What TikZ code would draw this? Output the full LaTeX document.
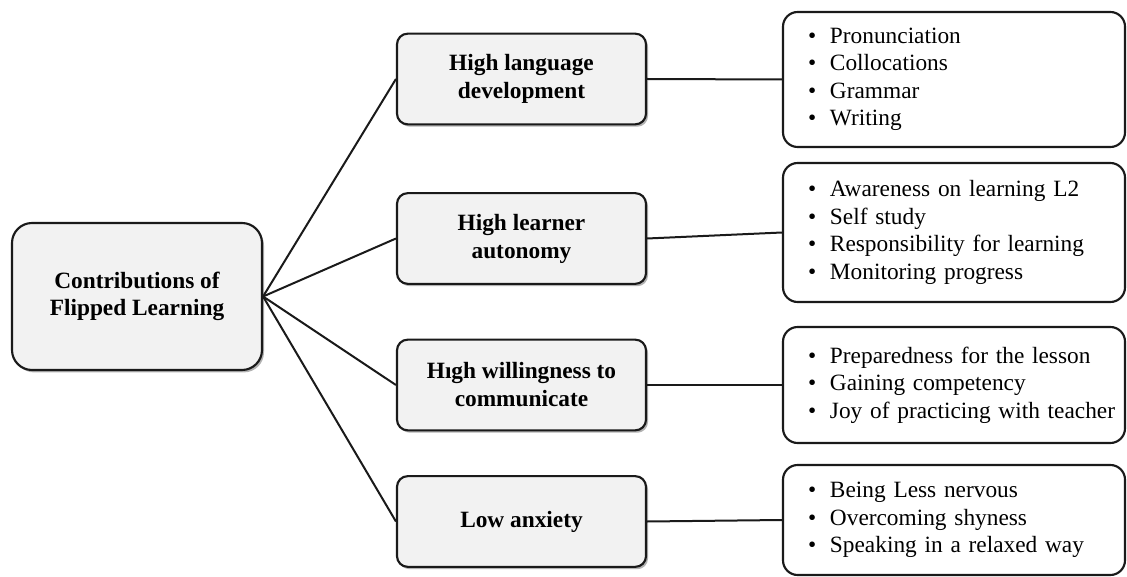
\documentclass[tikz,border=0pt]{standalone}
\usepackage{fontspec}
\setmainfont{Liberation Serif}
\usetikzlibrary{shadows}
\definecolor{flgray}{HTML}{F2F2F2}
\definecolor{flline}{HTML}{1A1A1A}
\newcommand{\bul}[1]{\hspace*{18.75pt}\makebox[16.5pt][l]{\textbullet}#1}

\begin{document}
\begin{tikzpicture}[
    x=0.75pt,
    y=-0.75pt,
    root/.style={rectangle, rounded corners=15pt, draw=flline, line width=1.6pt, fill=flgray, minimum width=187.5pt, minimum height=110.25pt, align=center, font=\fontsize{17.5}{20.5}\selectfont\bfseries, drop shadow={shadow xshift=1.5pt, shadow yshift=-1.8pt, fill=black, opacity=0.3}},
    theme/.style={rectangle, rounded corners=8pt, draw=flline, line width=1.6pt, fill=flgray, minimum width=186.75pt, minimum height=68pt, align=center, font=\fontsize{17.5}{21}\selectfont\bfseries, drop shadow={shadow xshift=1.5pt, shadow yshift=-1.8pt, fill=black, opacity=0.3}},
    list/.style={rectangle, rounded corners=11pt, draw=flline, line width=1.6pt, fill=white, inner xsep=0pt, text width=256.5pt, align=left, font=\fontsize{17.5}{20.6}\selectfont},
    link/.style={line width=1.5pt, draw=flline}
  ]
    \useasboundingbox (0,0) rectangle (1127,577);

    \node[root] (contrib) at (137,296.5) {Contributions of\\Flipped Learning};

    \node[theme] (lang) at (521.5,79) {High language\\development};
    \node[theme] (auto) at (521.5,238.5) {High learner\\autonomy};
    \node[theme] (will) at (521.5,385) {Hıgh willingness to\\communicate};
    \node[theme] (anx) at (521.5,521.5) {Low anxiety};

    \node[list, minimum height=101.25pt] (langlist) at (954,79.5) {\bul{Pronunciation}\\\bul{Collocations}\\\bul{Grammar}\\\bul{Writing}};
    \node[list, minimum height=104.25pt] (autolist) at (954,232.5) {\bul{Awareness on learning L2}\\\bul{Self study}\\\bul{Responsibility for learning}\\\bul{Monitoring progress}};
    \node[list, minimum height=87pt] (willlist) at (954,385) {\bul{Preparedness for the lesson}\\\bul{Gaining competency}\\\bul{Joy of practicing with teacher}};
    \node[list, minimum height=82.5pt] (anxlist) at (954,520) {\bul{Being Less nervous}\\\bul{Overcoming shyness}\\\bul{Speaking in a relaxed way}};

    \foreach \t in {lang,auto,will,anx}
      \draw[link] (contrib.east) -- (\t.west);
    \foreach \t in {lang,auto,will,anx}
      \draw[link] (\t.east) -- (\t list.west);
  \end{tikzpicture}
\end{document}
